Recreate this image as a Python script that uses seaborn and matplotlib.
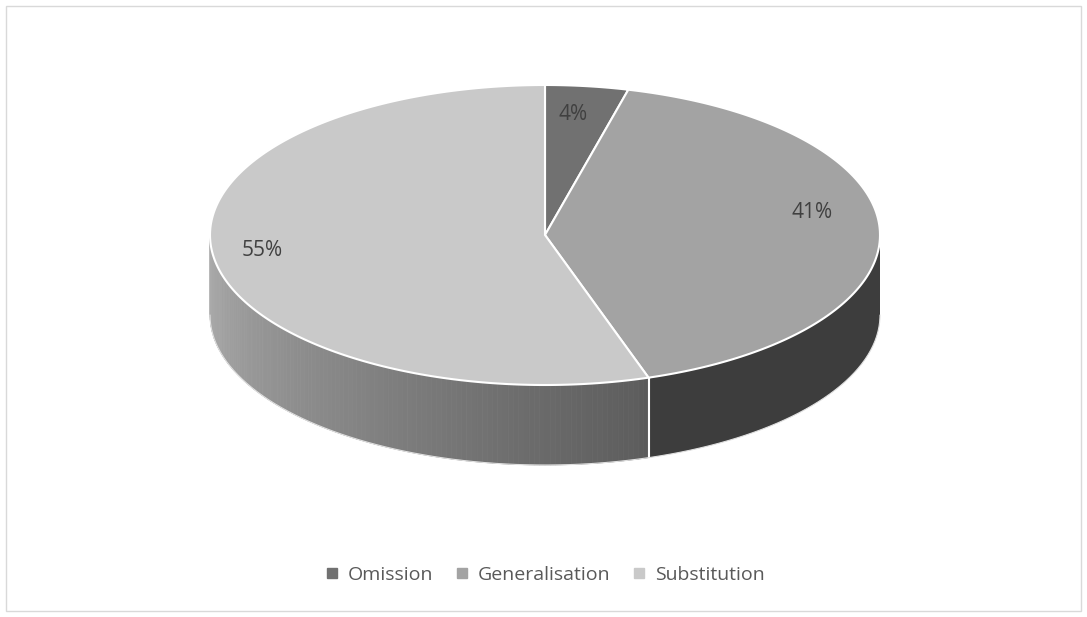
import numpy as np
import matplotlib.pyplot as plt
import seaborn as sns
from matplotlib.patches import Polygon, Rectangle

sns.set_style("white")
plt.rcParams['font.family'] = ['Open Sans', 'DejaVu Sans']

# data
categories = ['Omission', 'Generalisation', 'Substitution']
values = [4, 41, 55]
top_colors = ['#717171', '#a3a3a3', '#c9c9c9']

W, H = 1087, 617
cx, cy = 545, H - 235
rx, ry, depth = 335, 150, 80

fig = plt.figure(figsize=(W / 100, H / 100), dpi=100)
ax = fig.add_axes([0, 0, 1, 1])
ax.set_xlim(0, W)
ax.set_ylim(0, H)
ax.axis('off')
ax.add_patch(Rectangle((6, 6), W - 12, H - 12, fill=False, ec='#d9d9d9', lw=1))


def pt(t):
    r = np.radians(t)
    return cx + rx * np.cos(r), cy + ry * np.sin(r)


# slice angles, clockwise from 12 o'clock
fracs = np.array(values) / sum(values)
bounds = 90 - 360 * np.concatenate([[0], np.cumsum(fracs)])

# side walls (front half only: angles between -180 and 0)
seam = bounds[2]
# Generalisation side
ts = np.linspace(seam, 0, 80)
xs, ys = pt(ts)
poly = np.vstack([np.column_stack([xs, ys]), np.column_stack([xs[::-1], ys[::-1] - depth])])
ax.add_patch(Polygon(poly, fc='#3d3d3d', ec='none'))
# Substitution side with gradient
n = 120
ts = np.linspace(-180, seam, n + 1)
for i in range(n):
    seg = np.linspace(ts[i], ts[i + 1], 4)
    xs, ys = pt(seg)
    f = i / n
    g = 0.68 * (1 - f) + 0.36 * f
    poly = np.vstack([np.column_stack([xs, ys]), np.column_stack([xs[::-1], ys[::-1] - depth])])
    ax.add_patch(Polygon(poly, fc=(g, g, g), ec=(g, g, g), lw=0.5))
sx, sy = pt(seam)
ax.plot([sx, sx], [sy, sy - depth], color='white', lw=1.5)
xs, ys = pt(np.linspace(-180, 0, 200))
ax.plot(xs, ys - depth, color='#e0e0e0', lw=0.8)

# top wedges
for i in range(3):
    ts = np.linspace(bounds[i], bounds[i + 1], 200)
    xs, ys = pt(ts)
    poly = np.vstack([[cx, cy], np.column_stack([xs, ys])])
    ax.add_patch(Polygon(poly, fc=top_colors[i], ec='white', lw=1.5))

# labels
label_pos = [(573, H - 115), (812, H - 213), (262, H - 250)]
for v, (lx, ly) in zip(values, label_pos):
    ax.text(lx, ly, f'{v}%', ha='center', va='center', fontsize=15, color='#404040')

# legend
handles = [plt.Line2D([], [], marker='s', ls='', color=c, markersize=7) for c in top_colors]
fig.legend(handles, categories, loc='center', bbox_to_anchor=(0.5, 1 - 575 / H), ncol=3,
           frameon=False, fontsize=14, labelcolor='#595959', handletextpad=0.3,
           columnspacing=1.0, handlelength=1.0)

fig.savefig('out.png', dpi=100)
